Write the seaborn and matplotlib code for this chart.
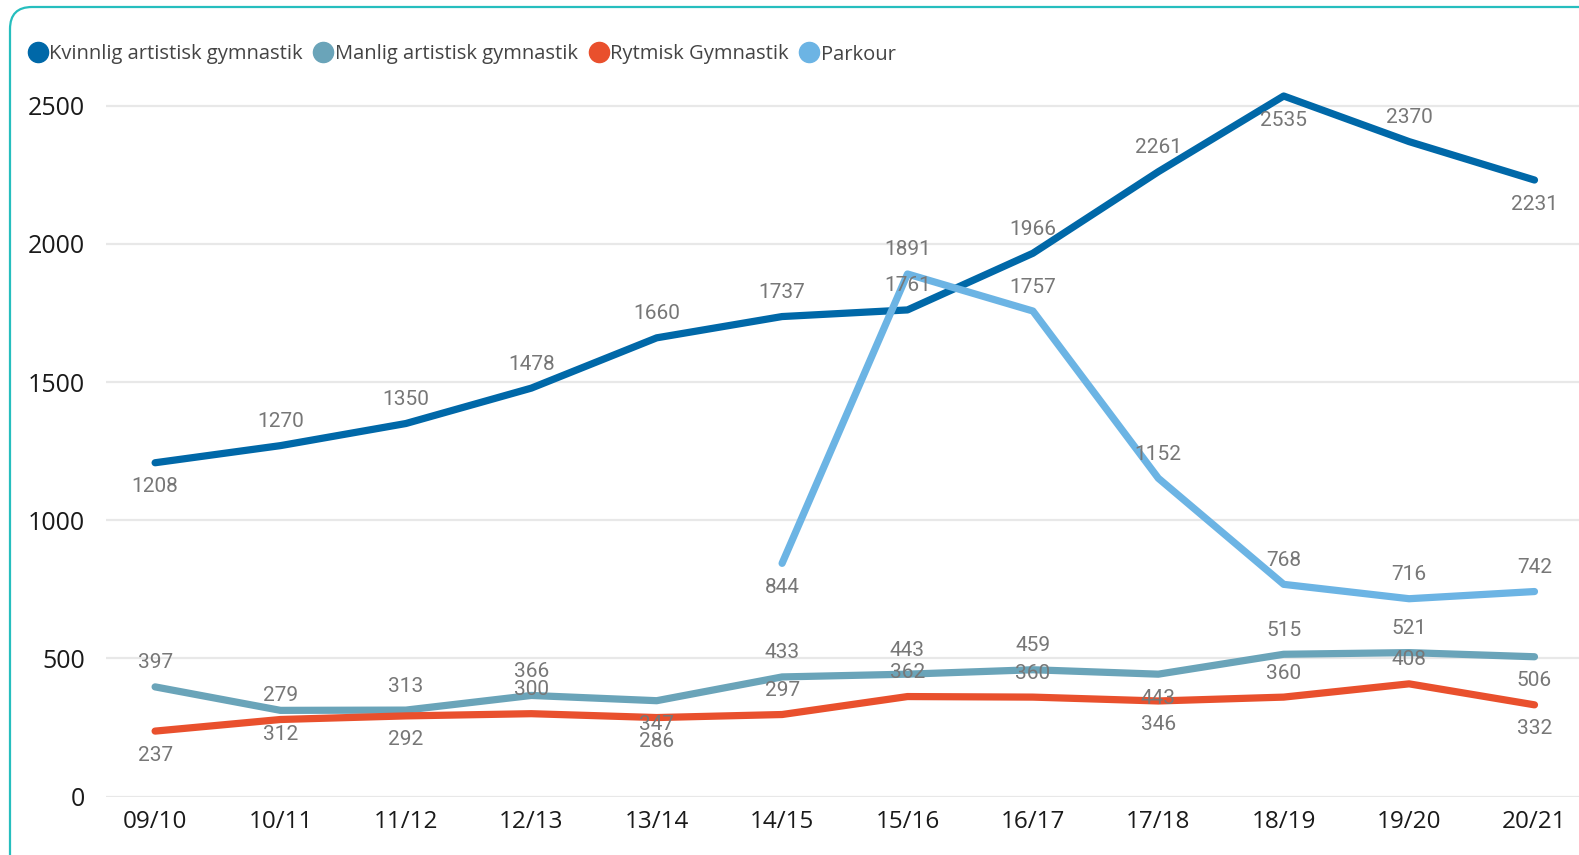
import numpy as np
import pandas as pd
import matplotlib
matplotlib.use('Agg')
import matplotlib.pyplot as plt
import seaborn as sns
from matplotlib.lines import Line2D
from matplotlib.patches import FancyBboxPatch
from matplotlib.transforms import IdentityTransform

# ── Data ─────────────────────────────────────────────────────────────────────
seasons = ['09/10', '10/11', '11/12', '12/13', '13/14', '14/15',
           '15/16', '16/17', '17/18', '18/19', '19/20', '20/21']
series = ['Kvinnlig artistisk gymnastik', 'Manlig artistisk gymnastik',
          'Rytmisk Gymnastik', 'Parkour']
kvinnlig = [1208, 1270, 1350, 1478, 1660, 1737, 1761, 1966, 2261, 2535, 2370, 2231]
manlig   = [397, 312, 313, 366, 347, 433, 443, 459, 443, 515, 521, 506]
rytmisk  = [237, 279, 292, 300, 286, 297, 362, 360, 346, 360, 408, 332]
parkour  = [np.nan] * 5 + [844, 1891, 1757, 1152, 768, 716, 742]

# label placement: +1 above the point, -1 below
place = {
    'Kvinnlig artistisk gymnastik': [-1, 1, 1, 1, 1, 1, 1, 1, 1, -1, 1, -1],
    'Manlig artistisk gymnastik':   [1, -1, 1, 1, -1, 1, 1, 1, -1, 1, 1, -1],
    'Rytmisk Gymnastik':            [-1, 1, -1, 1, -1, 1, 1, 1, -1, 1, 1, -1],
    'Parkour':                      [0, 0, 0, 0, 0, -1, 1, 1, 1, 1, 1, 1],
}

colors = ['#0068A8', '#6AA4B9', '#E9502D', '#6CB4E4']
palette = dict(zip(series, colors))

df = pd.DataFrame({
    'season': seasons * 4,
    'series': np.repeat(series, len(seasons)),
    'value': kvinnlig + manlig + rytmisk + parkour,
})

# ── Figure ───────────────────────────────────────────────────────────────────
W, H = 1579, 855
fig = plt.figure(figsize=(W / 100, H / 100), dpi=100)
ax = fig.add_axes([105.7 / W, 1 - 796.6 / H, (W - 105.7) / W, (796.6 - 89.1) / H])

sns.lineplot(data=df, x='season', y='value', hue='series', palette=palette,
             hue_order=series, linewidth=5.2, sort=False, legend=False, ax=ax,
             solid_capstyle='round', solid_joinstyle='round')

ax.set_xlim(-0.394, 11.355)
ax.set_ylim(0, 2560)
ax.set_yticks([0, 500, 1000, 1500, 2000, 2500])
ax.set_xlabel(''); ax.set_ylabel('')
ax.grid(axis='y', color='#E8E8E8', linewidth=1.6)
ax.set_axisbelow(True)
for s in ax.spines.values():
    s.set_visible(False)
ax.tick_params(axis='both', length=0)
ax.tick_params(axis='y', pad=15, labelsize=18, labelcolor='#1a1a1a')
ax.tick_params(axis='x', pad=10, labelsize=17.5, labelcolor='#1a1a1a')
for lab in ax.get_yticklabels() + ax.get_xticklabels():
    lab.set_family(['Open Sans', 'DejaVu Sans'])

# data labels
vals = {'Kvinnlig artistisk gymnastik': kvinnlig, 'Manlig artistisk gymnastik': manlig,
        'Rytmisk Gymnastik': rytmisk, 'Parkour': parkour}
for name in series:
    for i, v in enumerate(vals[name]):
        if np.isnan(v):
            continue
        ax.annotate(f'{int(v)}', (i, v), textcoords='offset pixels',
                    xytext=(0, 24 * place[name][i]), ha='center', va='center',
                    fontsize=15, color='#777777', family=['Roboto', 'DejaVu Sans'])

# legend
handles = [Line2D([], [], marker='o', linestyle='', markersize=14.5, color=c) for c in colors]
fig.legend(handles, series, loc='center left', bbox_to_anchor=(26 / W, 1 - 54.5 / H),
           ncol=4, frameon=False, handletextpad=0.0, columnspacing=0.45,
           handlelength=1.15, borderpad=0, borderaxespad=0,
           prop={'family': 'Open Sans', 'size': 14.5}, labelcolor='#444444')

# rounded teal frame
frame = FancyBboxPatch((10, -30), 1640, 878, boxstyle='round,pad=0,rounding_size=22',
                       transform=IdentityTransform(), fill=False,
                       edgecolor='#26BEBE', linewidth=1.6)
fig.add_artist(frame)

fig.savefig('out.png', dpi=100)
